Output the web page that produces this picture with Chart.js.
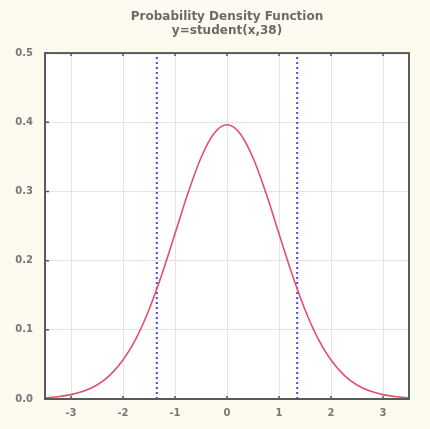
<!DOCTYPE html>
<html>
<head>
<meta charset="utf-8">
<script src="https://cdn.jsdelivr.net/npm/chart.js@4"></script>
<style>
  html, body { margin: 0; padding: 0; background: #fdfaf0; }
  #wrap { width: 430px; height: 429px; }
</style>
</head>
<body>
<div id="wrap"><canvas id="pdfChart" width="430" height="429"></canvas></div>
<script>
// values
const xValues = [-3.5, -3.25, -3, -2.75, -2.5, -2.25, -2, -1.75, -1.5, -1.25, -1, -0.75, -0.5, -0.25,
                 0, 0.25, 0.5, 0.75, 1, 1.25, 1.5, 1.75, 2, 2.25, 2.5, 2.75, 3, 3.25, 3.5];
const densityValues = [0.0017, 0.0033, 0.0063, 0.0115, 0.0203, 0.0346, 0.0563, 0.0874, 0.1291, 0.1806, 0.2388, 0.2976, 0.3487, 0.3838,
                       0.3963, 0.3838, 0.3487, 0.2976, 0.2388, 0.1806, 0.1291, 0.0874, 0.0563, 0.0346, 0.0203, 0.0115, 0.0063, 0.0033, 0.0017];
const cutoffs = [-1.35, 1.35];
const xTicks = [-3, -2, -1, 0, 1, 2, 3];
const yTicks = [0, 0.1, 0.2, 0.3, 0.4, 0.5];
const titleLines = ["Probability Density Function", "y=student(x,38)"];

const curve = xValues.map((x, i) => ({ x: x, y: densityValues[i] }));

const cutoffSets = cutoffs.map(c => ({
    label: "cutoff " + c,
    data: [{ x: c, y: 0 }, { x: c, y: 0.5 }],
    showLine: true,
    borderColor: "#4a48d8",
    borderWidth: 2,
    borderDash: [2, 3],
    pointRadius: 0,
}));

// white plot area + small inner tick marks
const plotBox = {
    id: "plotBox",
    beforeDraw(chart) {
        const { ctx, chartArea: a } = chart;
        ctx.save();
        ctx.fillStyle = "#fdfaf0";
        ctx.fillRect(0, 0, chart.width, chart.height);
        ctx.fillStyle = "#ffffff";
        ctx.fillRect(a.left, a.top, a.right - a.left, a.bottom - a.top);
        ctx.restore();
    },
    afterDatasetsDraw(chart) {
        const { ctx, chartArea: a, scales } = chart;
        ctx.save();
        ctx.strokeStyle = "#555";
        ctx.lineWidth = 1.5;
        ctx.beginPath();
        xTicks.forEach(v => {
            const px = scales.x.getPixelForValue(v);
            ctx.moveTo(px, a.bottom); ctx.lineTo(px, a.bottom - 3);
            ctx.moveTo(px, a.top); ctx.lineTo(px, a.top + 3);
        });
        yTicks.forEach(v => {
            const py = scales.y.getPixelForValue(v);
            ctx.moveTo(a.left, py); ctx.lineTo(a.left + 4, py);
        });
        ctx.stroke();
        ctx.strokeStyle = "#5a5a5a";
        ctx.lineWidth = 2;
        ctx.strokeRect(a.left, a.top, a.right - a.left, a.bottom - a.top);
        ctx.restore();
    }
};

const tickFont = { family: "DejaVu Sans", size: 10, weight: "bold" };

new Chart(document.getElementById("pdfChart"), {
    type: "scatter",
    data: {
        datasets: [
            {
                label: "student(x,38)",
                data: curve,
                showLine: true,
                borderColor: "#e2506c",
                borderWidth: 1.6,
                pointRadius: 0,
                cubicInterpolationMode: "monotone",
            },
            ...cutoffSets
        ]
    },
    options: {
        responsive: false,
        animation: false,
        layout: { padding: { left: 0, right: 21, top: 0, bottom: 0 } },
        plugins: {
            legend: { display: false },
            tooltip: { enabled: false },
            title: {
                display: true,
                text: titleLines,
                fullSize: false,
                color: "#6a6a6a",
                font: { family: "DejaVu Sans", size: 12, weight: "bold", lineHeight: 1.17 },
                padding: { top: 10, bottom: 15 },
            },
        },
        scales: {
            x: {
                type: "linear",
                min: -3.5,
                max: 3.5,
                afterBuildTicks: s => { s.ticks = xTicks.map(v => ({ value: v })); },
                afterFit: s => { s.height = 30; },
                grid: { color: "#e4e4e4", drawTicks: false },
                border: { display: false },
                ticks: { color: "#777", font: tickFont, padding: 8, callback: v => String(v) },
            },
            y: {
                min: 0,
                max: 0.5,
                afterBuildTicks: s => { s.ticks = yTicks.map(v => ({ value: v })); },
                afterFit: s => { s.width = 45; },
                grid: { color: "#e4e4e4", drawTicks: false },
                border: { display: false },
                ticks: { color: "#777", font: tickFont, padding: 12, callback: v => v.toFixed(1) },
            },
        },
    },
    plugins: [plotBox],
});
</script>
</body>
</html>
